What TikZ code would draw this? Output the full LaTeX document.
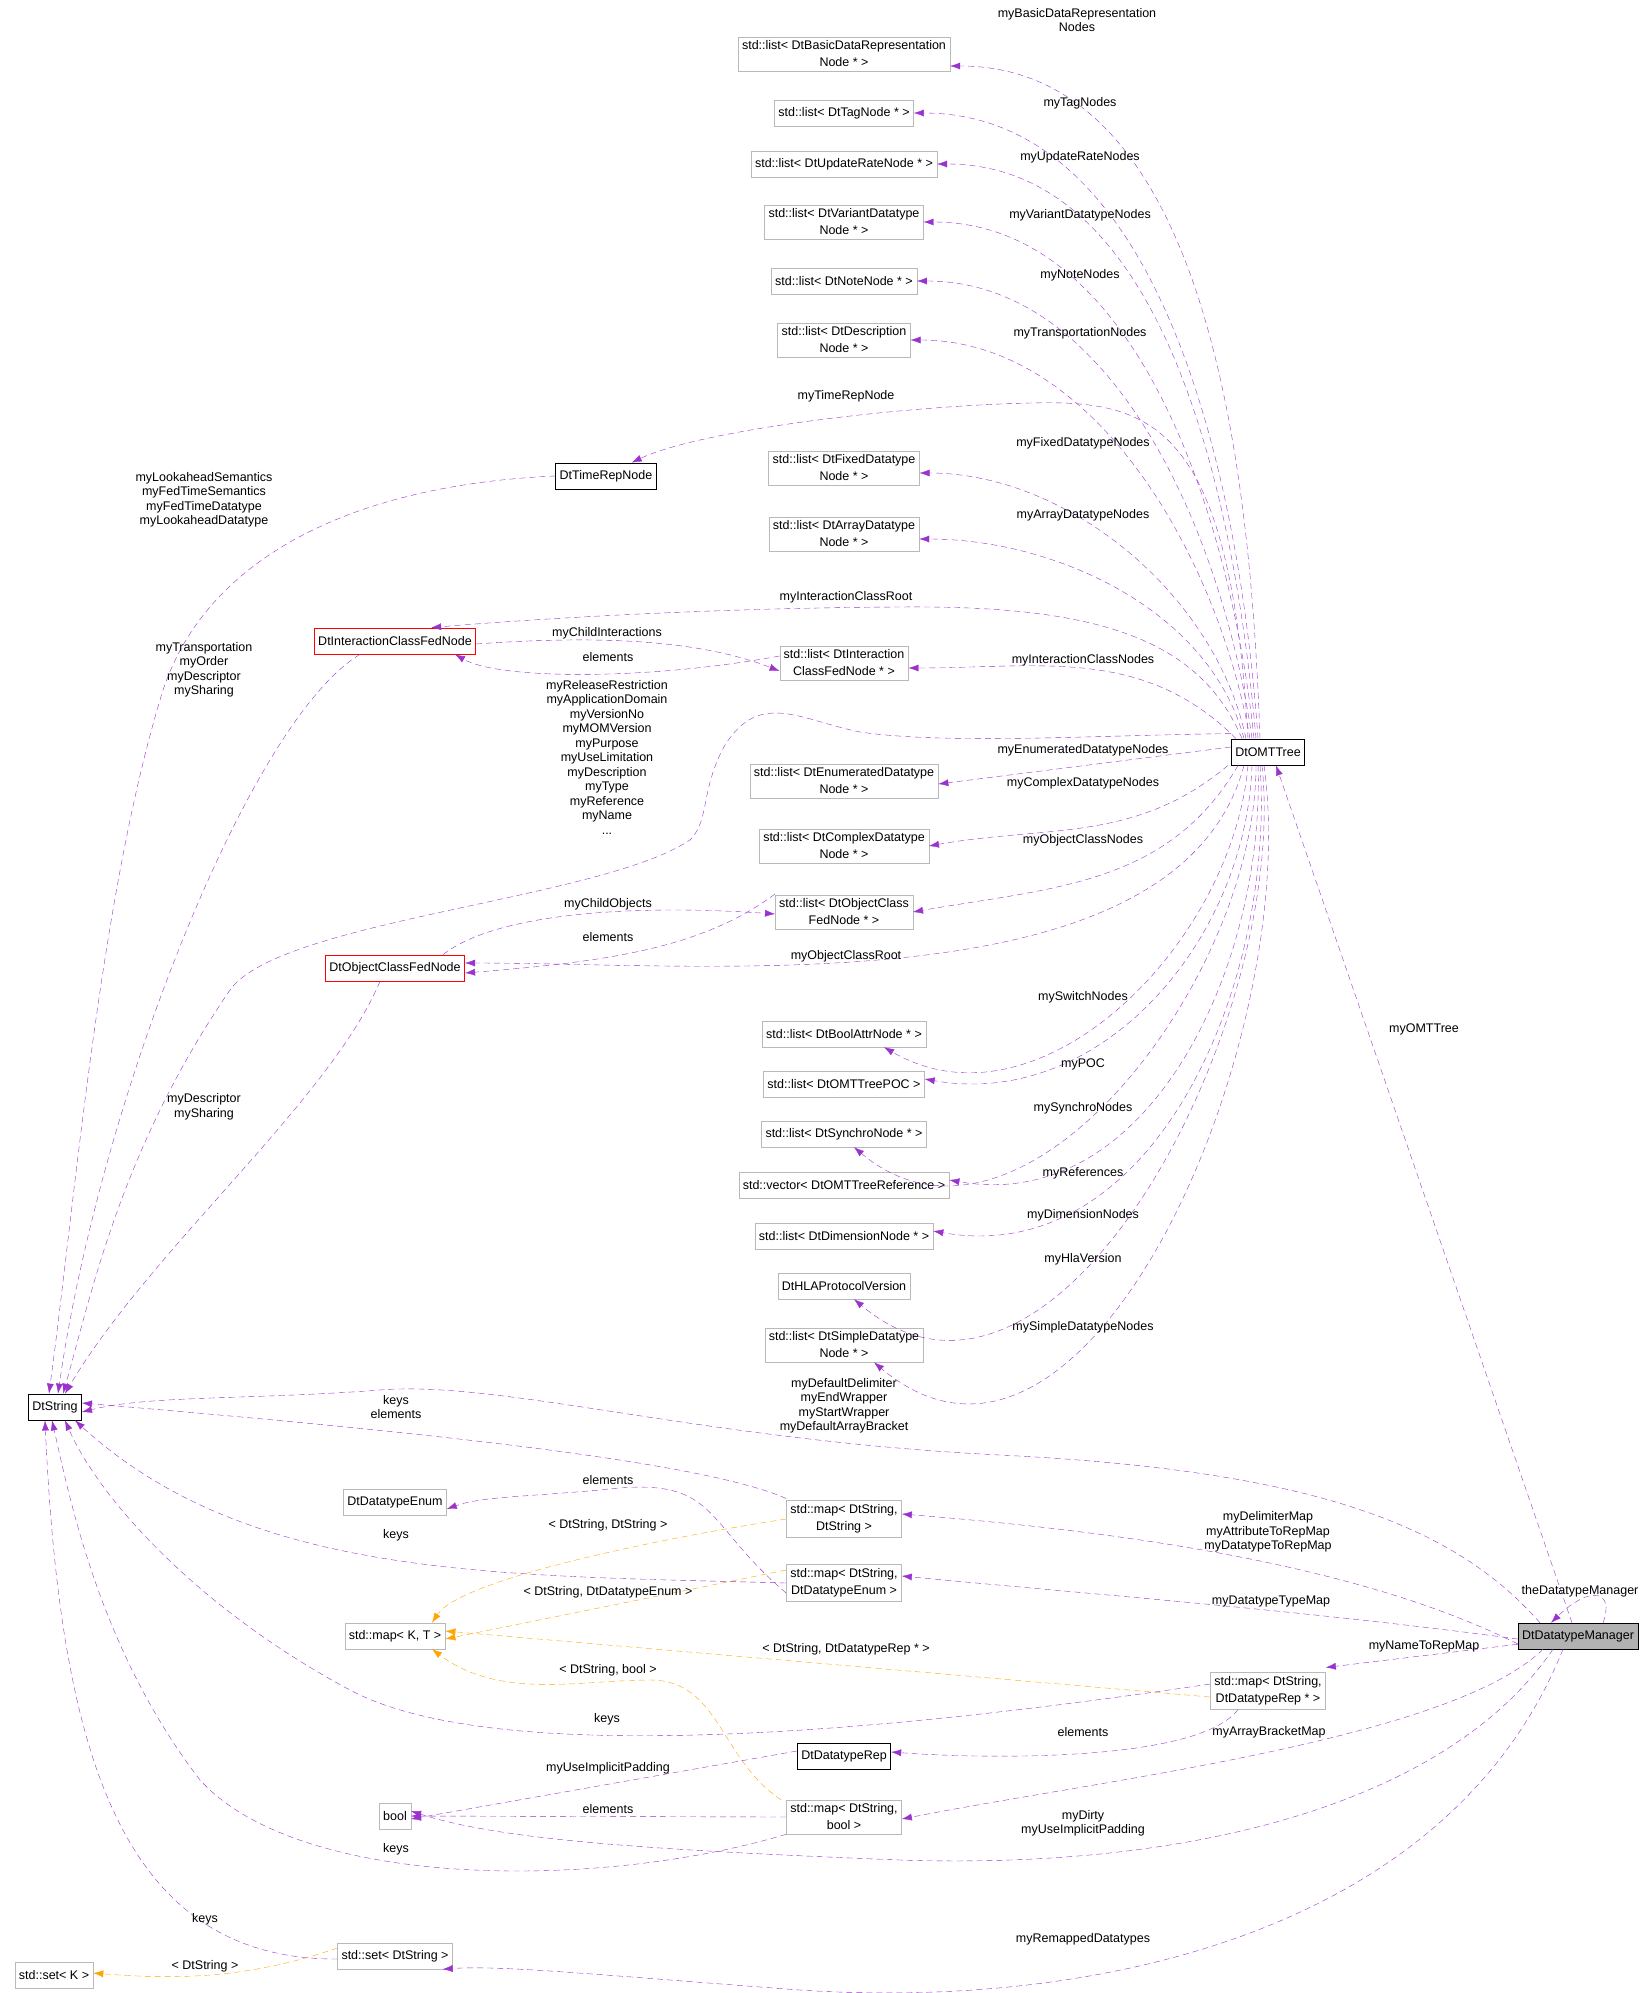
\documentclass[tikz,border=0pt]{standalone}
\usepackage{fontspec}
\setmainfont{Liberation Sans}
\usetikzlibrary{arrows.meta}
\definecolor{usecol}{HTML}{9A32CD}
\definecolor{tplcol}{HTML}{FFA500}
\begin{document}
\begin{tikzpicture}[x=1pt, y=-1pt,
    box/.style = {draw=gray!55, rectangle, minimum height=26, inner sep=4, align=center, font=\fontsize{12.5}{17}\selectfont},
    doc/.style = {box, draw=black, thick},
    trunc/.style = {box, draw=red, thick},
    lbl/.style = {align=center, inner sep=0, font=\fontsize{12.5}{14.5}\selectfont},
    ar/.style = {usecol, dash pattern=on 6pt off 4pt, -{Latex[length=10pt, width=7pt]}},
    tp/.style = {ar, tplcol}]
        \useasboundingbox (0,0) rectangle (1645,1993);

        % member types on the list column
        \node[box] (bdr) at (844,54) {std::list< DtBasicDataRepresentation\\Node * >};
        \node[box] (tag) at (844,113) {std::list< DtTagNode * >};
        \node[box] (upd) at (844,164) {std::list< DtUpdateRateNode * >};
        \node[box] (var) at (844,222) {std::list< DtVariantDatatype\\Node * >};
        \node[box] (note) at (844,281) {std::list< DtNoteNode * >};
        \node[box] (desc) at (844,340) {std::list< DtDescription\\Node * >};
        \node[box] (fix) at (844,468) {std::list< DtFixedDatatype\\Node * >};
        \node[box] (arr) at (844,534) {std::list< DtArrayDatatype\\Node * >};
        \node[box] (icl) at (844,663) {std::list< DtInteraction\\ClassFedNode * >};
        \node[box] (enu) at (844,781) {std::list< DtEnumeratedDatatype\\Node * >};
        \node[box] (cpx) at (844,846) {std::list< DtComplexDatatype\\Node * >};
        \node[box] (ocl) at (844,912) {std::list< DtObjectClass\\FedNode * >};
        \node[box] (bool-l) at (844,1034) {std::list< DtBoolAttrNode * >};
        \node[box] (poc) at (844,1084) {std::list< DtOMTTreePOC >};
        \node[box] (syn) at (844,1134) {std::list< DtSynchroNode * >};
        \node[box] (ref) at (844,1185) {std::vector< DtOMTTreeReference >};
        \node[box] (dim) at (844,1236) {std::list< DtDimensionNode * >};
        \node[box] (hla) at (844,1286) {DtHLAProtocolVersion};
        \node[box] (smp) at (844,1345) {std::list< DtSimpleDatatype\\Node * >};

        \node[doc] (trn) at (606,476) {DtTimeRepNode};
        \node[trunc] (icn) at (395,641) {DtInteractionClassFedNode};
        \node[trunc] (ocn) at (395,968) {DtObjectClassFedNode};
        \node[doc] (omt) at (1268,752) {DtOMTTree};
        \node[doc] (dts) at (55,1407) {DtString};

        \node[box] (dte) at (395,1502) {DtDatatypeEnum};
        \node[box] (mss) at (844,1519) {std::map< DtString,\\DtString >};
        \node[box] (mse) at (844,1583) {std::map< DtString,\\DtDatatypeEnum >};
        \node[box] (mkt) at (395,1636) {std::map< K, T >};
        \node[doc, fill=gray!60, thin] (dm) at (1578,1636) {DtDatatypeManager};
        \node[box] (msr) at (1268,1691) {std::map< DtString,\\DtDatatypeRep * >};
        \node[doc] (rep) at (844,1756) {DtDatatypeRep};
        \node[box] (bool) at (395,1816) {bool};
        \node[box] (msb) at (844,1817) {std::map< DtString,\\bool >};
        \node[box] (sst) at (395,1956) {std::set< DtString >};
        \node[box] (sk) at (54,1975) {std::set< K >};

        % DtOMTTree members
        \draw[ar] ([xshift=-8]omt.north) to[out=92, in=0, looseness=0.9] ([yshift=-12]bdr.east);
        \draw[ar] ([xshift=-10]omt.north) to[out=94, in=0, looseness=0.9] (tag.east);
        \draw[ar] ([xshift=-12]omt.north) to[out=95, in=0, looseness=0.9] (upd.east);
        \draw[ar] ([xshift=-14]omt.north) to[out=96, in=0, looseness=0.9] (var.east);
        \draw[ar] ([xshift=-16]omt.north) to[out=98, in=0, looseness=0.9] (note.east);
        \draw[ar] ([xshift=-18]omt.north) to[out=100, in=0, looseness=0.9] (desc.east);
        \draw[ar] ([xshift=-20]omt.north) .. controls (1230,420) and (1150,400) .. (1030,403)
            .. controls (900,406) and (700,430) .. ([xshift=-25]trn.north east);
        \draw[ar] ([xshift=-22]omt.north) to[out=102, in=0, looseness=0.9] ([yshift=-5]fix.east);
        \draw[ar] ([xshift=-24]omt.north) to[out=105, in=0, looseness=0.9] ([yshift=-5]arr.east);
        \draw[ar] ([xshift=-26]omt.north) .. controls (1200,640) and (1100,605) .. (900,607)
            .. controls (700,608) and (520,620) .. ([xshift=-45]icn.north east);
        \draw[ar] ([xshift=-32]omt.north) to[out=135, in=0] ([yshift=-5]icl.east);
        \draw[ar] ([yshift=5]omt.north west) .. controls (1100,735) and (950,745) .. (860,732)
            .. controls (800,720) and (760,690) .. (725,745)
            .. controls (700,790) and (710,820) .. (690,840)
            .. controls (600,900) and (280,920) .. (230,990)
            .. controls (120,1150) and (90,1300) .. ([xshift=8]dts.north);
        \draw[ar] ([yshift=5]omt.west) -- ([yshift=-3]enu.east);
        \draw[ar] ([xshift=-40]omt.south) to[out=220, in=10] (cpx.east);
        \draw[ar] ([xshift=-30]omt.south) to[out=240, in=10] (ocl.east);
        \draw[ar] ([xshift=-24]omt.south) to[out=255, in=0, looseness=0.8] ([yshift=5]ocn.east);
        \draw[ar] ([xshift=-20]omt.south) to[out=265, in=-30] ([xshift=40]bool-l.south);
        \draw[ar] ([xshift=-16]omt.south) to[out=268, in=-10] ([yshift=5]poc.east);
        \draw[ar] ([xshift=-12]omt.south) to[out=270, in=-40] ([xshift=10]syn.south);
        \draw[ar] ([xshift=-10]omt.south) to[out=272, in=-10] ([yshift=5]ref.east);
        \draw[ar] ([xshift=-8]omt.south) to[out=274, in=-10] ([yshift=5]dim.east);
        \draw[ar] ([xshift=-6]omt.south) to[out=276, in=-40] ([xshift=10]hla.south);
        \draw[ar] ([xshift=-4]omt.south) to[out=278, in=-40] ([xshift=30]smp.south);

        % fed nodes
        \draw[ar] (trn.west) .. controls (350,485) and (200,560) .. (160,700)
            .. controls (100,900) and (75,1200) .. ([xshift=-6]dts.north);
        \draw[ar] ([yshift=-3]icn.east) .. controls (600,635) and (700,640) .. ([yshift=-8]icl.west);
        \draw[ar] ([yshift=7]icl.west) .. controls (650,680) and (500,680) .. ([xshift=60]icn.south);
        \draw[ar] ([xshift=-35]icn.south) .. controls (250,720) and (100,1100) .. ([xshift=3]dts.north);
        \draw[ar] ([xshift=48]ocn.north) .. controls (500,910) and (650,905) .. ([yshift=-2]ocl.west);
        \draw[ar] ([yshift=18]ocl.west) .. controls (700,950) and (600,962) .. ([yshift=-5]ocn.east);
        \draw[ar] ([xshift=-15]ocn.south) .. controls (330,1100) and (150,1250) .. ([xshift=10]dts.north);

        % DtDatatypeManager members
        \draw[ar] ([xshift=-6]dm.north) -- ([xshift=8]omt.south);
        \draw[ar] ([xshift=25]dm.north) .. controls (1615,1590) and (1590,1585) .. ([xshift=-27]dm.north);
        \draw[ar] ([xshift=-38]dm.north) .. controls (1450,1520) and (1300,1470) .. (1000,1455)
            .. controls (700,1440) and (500,1380) .. (380,1390)
            .. controls (250,1400) and (150,1395) .. ([yshift=-5]dts.east);
        \draw[ar] ([yshift=2]mss.north west) .. controls (700,1460) and (400,1430) .. ([yshift=4]dts.east);
        \draw[ar] ([yshift=-8]dm.west) .. controls (1350,1560) and (1100,1530) .. ([yshift=5]mss.east);
        \draw[ar] ([yshift=-10]mse.west) .. controls (700,1520) and (720,1475) .. (600,1490)
            .. controls (520,1497) and (480,1497) .. ([yshift=-7]dte.east);
        \draw[ar] (mse.west) .. controls (500,1575) and (250,1580) .. ([xshift=20]dts.south);
        \draw[ar] ([yshift=-3]dm.west) .. controls (1300,1610) and (1100,1595) .. ([yshift=7]mse.east);
        \draw[tp] (mss.west) .. controls (650,1540) and (460,1580) .. ([xshift=37]mkt.north);
        \draw[tp] ([yshift=13]mse.west) -- ([yshift=-3]mkt.east);
        \draw[tp] ([yshift=-6]msr.west) -- ([yshift=5]mkt.east);
        \draw[tp] ([xshift=-5]msb.north west) .. controls (720,1760) and (720,1680) .. (650,1680)
            .. controls (580,1680) and (500,1700) .. ([xshift=37]mkt.south);
        \draw[ar] ([yshift=5]dm.south west) -- ([yshift=5]msr.north east);
        \draw[ar] ([yshift=7]msr.west) .. controls (900,1730) and (500,1770) .. (350,1690)
            .. controls (200,1610) and (100,1500) .. ([xshift=10]dts.south);
        \draw[ar] ([xshift=-30]msr.south) .. controls (1200,1760) and (1000,1760) .. ([yshift=4]rep.east);
        \draw[ar] ([yshift=5]rep.west) -- ([yshift=-3]bool.east);
        \draw[ar] ([xshift=-35]dm.south) .. controls (1450,1740) and (1100,1780) .. ([yshift=-2]msb.east);
        \draw[ar] (msb.west) -- (bool.east);
        \draw[ar] (msb.south west) .. controls (600,1890) and (300,1890) .. (200,1780)
            .. controls (100,1650) and (70,1500) .. ([xshift=-3]dts.south);
        \draw[ar] ([xshift=-25]dm.south) .. controls (1450,1800) and (1200,1870) .. (900,1860)
            .. controls (650,1850) and (500,1840) .. ([yshift=5]bool.east);
        \draw[ar] ([xshift=-15]dm.south) .. controls (1450,1930) and (1100,2010) .. (800,1990)
            .. controls (600,1975) and (500,1965) .. ([xshift=-10]sst.south east);
        \draw[ar] ([yshift=-3]sst.west) .. controls (120,1960) and (60,1750) .. ([xshift=-10]dts.south);
        \draw[tp] ([yshift=8]sst.west) .. controls (250,1978) and (180,1980) .. ([yshift=2]sk.east);

        % labels
        \node[lbl] (l-bdr) at (1077,20) {myBasicDataRepresentation\\Nodes};
        \node[lbl] (l-tag) at (1080,103) {myTagNodes};
        \node[lbl] (l-upd) at (1080,157) {myUpdateRateNodes};
        \node[lbl] (l-var) at (1080,215) {myVariantDatatypeNodes};
        \node[lbl] (l-note) at (1080,275) {myNoteNodes};
        \node[lbl] (l-desc) at (1080,333) {myTransportationNodes};
        \node[lbl] (l-trn) at (846,396) {myTimeRepNode};
        \node[lbl] (l-fix) at (1083,443) {myFixedDatatypeNodes};
        \node[lbl] (l-arr) at (1083,515) {myArrayDatatypeNodes};
        \node[lbl] (l-icr) at (846,597) {myInteractionClassRoot};
        \node[lbl] (l-icl) at (1083,660) {myInteractionClassNodes};
        \node[lbl] (l-dts) at (607,757) {myReleaseRestriction\\myApplicationDomain\\myVersionNo\\myMOMVersion\\myPurpose\\myUseLimitation\\myDescription\\myType\\myReference\\myName\\...};
        \node[lbl] (l-enu) at (1083,750) {myEnumeratedDatatypeNodes};
        \node[lbl] (l-cpx) at (1083,783) {myComplexDatatypeNodes};
        \node[lbl] (l-ocl) at (1083,840) {myObjectClassNodes};
        \node[lbl] (l-ocr) at (846,956) {myObjectClassRoot};
        \node[lbl] (l-bool) at (1083,997) {mySwitchNodes};
        \node[lbl] (l-poc) at (1083,1064) {myPOC};
        \node[lbl] (l-syn) at (1083,1108) {mySynchroNodes};
        \node[lbl] (l-ref) at (1083,1173) {myReferences};
        \node[lbl] (l-dim) at (1083,1215) {myDimensionNodes};
        \node[lbl] (l-hla) at (1083,1259) {myHlaVersion};
        \node[lbl] (l-smp) at (1083,1327) {mySimpleDatatypeNodes};
        \node[lbl] (l-trn2) at (204,500) {myLookaheadSemantics\\myFedTimeSemantics\\myFedTimeDatatype\\myLookaheadDatatype};
        \node[lbl] (l-ich) at (607,633) {myChildInteractions};
        \node[lbl] (l-iel) at (608,657) {elements};
        \node[lbl] (l-icn) at (204,670) {myTransportation\\myOrder\\myDescriptor\\mySharing};
        \node[lbl] (l-och) at (608,904) {myChildObjects};
        \node[lbl] (l-oel) at (608,937) {elements};
        \node[lbl] (l-ocn) at (204,1107) {myDescriptor\\mySharing};
        \node[lbl] (l-omt) at (1424,1029) {myOMTTree};
        \node[lbl] (l-self) at (1580,1591) {theDatatypeManager};
        \node[lbl] (l-dm) at (844,1406) {myDefaultDelimiter\\myEndWrapper\\myStartWrapper\\myDefaultArrayBracket};
        \node[lbl] (l-mss) at (396,1407) {keys\\elements};
        \node[lbl] (l-mss2) at (1268,1532) {myDelimiterMap\\myAttributeToRepMap\\myDatatypeToRepMap};
        \node[lbl] (l-dte) at (608,1480) {elements};
        \node[lbl] (l-mse) at (396,1535) {keys};
        \node[lbl] (l-mse2) at (1271,1601) {myDatatypeTypeMap};
        \node[lbl] (l-t1) at (608,1525) {< DtString, DtString >};
        \node[lbl] (l-t2) at (608,1592) {< DtString, DtDatatypeEnum >};
        \node[lbl] (l-t3) at (846,1649) {< DtString, DtDatatypeRep * >};
        \node[lbl] (l-t4) at (608,1670) {< DtString, bool >};
        \node[lbl] (l-msr) at (1424,1646) {myNameToRepMap};
        \node[lbl] (l-msr2) at (607,1719) {keys};
        \node[lbl] (l-rep) at (1083,1732) {elements};
        \node[lbl] (l-rep2) at (608,1768) {myUseImplicitPadding};
        \node[lbl] (l-msb) at (1269,1732) {myArrayBracketMap};
        \node[lbl] (l-msb2) at (608,1809) {elements};
        \node[lbl] (l-msb3) at (396,1849) {keys};
        \node[lbl] (l-bool2) at (1083,1823) {myDirty\\myUseImplicitPadding};
        \node[lbl] (l-sst) at (1083,1939) {myRemappedDatatypes};
        \node[lbl] (l-sst2) at (205,1919) {keys};
        \node[lbl] (l-sk) at (205,1966) {< DtString >};
    \end{tikzpicture}
\end{document}
